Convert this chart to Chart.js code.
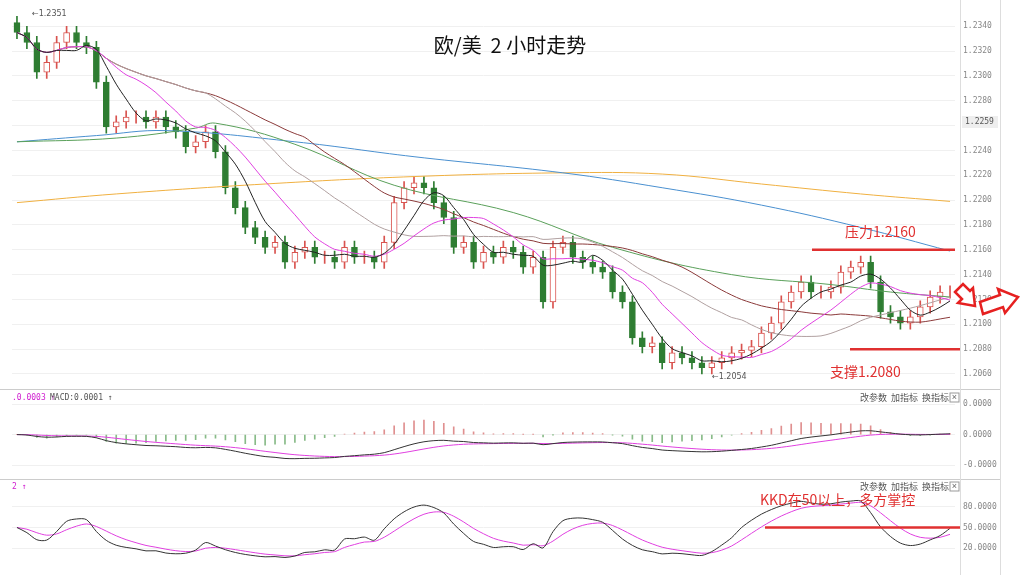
<!DOCTYPE html><html><head><meta charset="utf-8">
<script src="https://cdn.jsdelivr.net/npm/chart.js@4"></script>
<style>body{margin:0;background:#fff;width:1024px;height:575px;overflow:hidden;font-family:"Noto Sans CJK SC",sans-serif}
.c{position:absolute;left:0}
#sep{position:absolute;left:0;width:1000px;height:1px;background:#ccc}
</style></head><body>
<div class="c" style="top:0;width:1000px;height:388px"><canvas id="m"></canvas></div>
<div id="sep" style="top:389px"></div>
<div class="c" style="top:390px;width:1000px;height:88px"><canvas id="d"></canvas></div>
<div id="sep" style="top:479px"></div>
<div class="c" style="top:480px;width:1000px;height:95px"><canvas id="k"></canvas></div>
<div style="position:absolute;left:960px;top:0;width:1px;height:575px;background:#ddd"></div>
<div style="position:absolute;left:1000px;top:0;width:1px;height:575px;background:#ddd"></div>
<svg style="position:absolute;left:0;top:0" width="1024" height="575">
<path d="M955,292 L963,284 L970,291 L973,288 L975,306 L958,303 L962,299 Z" fill="#fff" stroke="#e62020" stroke-width="2.5"/>
<path d="M980,302 L1000,295 L998,289 L1018,297 L1005,313 L1003,307 L983,314 Z" fill="#fff" stroke="#e62020" stroke-width="2.5"/>
</svg>
<script>
const closes=[1.2335,1.2327,1.2303,1.2311,1.2327,1.2335,1.2327,1.2323,1.2295,1.2259,1.2263,1.2267,1.2267,1.2263,1.2267,1.2259,1.2255,1.2243,1.2247,1.2255,1.2239,1.2210,1.2194,1.2178,1.2170,1.2162,1.2166,1.2150,1.2158,1.2162,1.2154,1.2154,1.2150,1.2162,1.2154,1.2154,1.2150,1.2166,1.2198,1.2210,1.2214,1.2210,1.2198,1.2186,1.2162,1.2166,1.2150,1.2158,1.2154,1.2162,1.2158,1.2146,1.2154,1.2118,1.2162,1.2166,1.2154,1.2150,1.2146,1.2142,1.2126,1.2118,1.2089,1.2082,1.2085,1.2069,1.2077,1.2073,1.2069,1.2065,1.2069,1.2073,1.2077,1.2079,1.2082,1.2093,1.2101,1.2118,1.2126,1.2134,1.2126,1.2126,1.2130,1.2142,1.2146,1.2150,1.2134,1.2110,1.2106,1.2101,1.2106,1.2114,1.2122,1.2126,1.2126];
// long moving averages: [candle index, value]
const ma200pts=[[0,1.2198],[10,1.2205],[25,1.2213],[40,1.2219],[55,1.2222],[65,1.2221],[75,1.2213],[85,1.2205],[94,1.2199]];
const ma120pts=[[0,1.2247],[8,1.2252],[15,1.2256],[28,1.2247],[40,1.2235],[55,1.2222],[65,1.2210],[75,1.2196],[85,1.2178],[94,1.2159]];
const ma60pts=[[0,1.2247],[10,1.2250],[18,1.2258],[20,1.2262],[28,1.2245],[38,1.2212],[50,1.2190],[60,1.2162],[72,1.2140],[82,1.2132],[88,1.2126],[94,1.2122]];
const labels=closes.map((_,i)=>i);
const opens=closes.map((c,i)=>i?closes[i-1]:1.2343);
const wick=0.0005;
function sma(n){return closes.map((_,i)=>{if(i<n-1){let s=0;for(let j=0;j<=i;j++)s+=closes[j];return s/(i+1);}let s=0;for(let j=i-n+1;j<=i;j++)s+=closes[j];return s/n;});}
function pts(p){const a=new Array(closes.length).fill(null);p.forEach(([i,v])=>a[i]=v);return a;}
function ema(arr,n){let k=2/(n+1),o=[],e=arr[0];arr.forEach(v=>{e=v*k+e*(1-k);o.push(e);});return o;}
const e12=ema(closes,12),e26=ema(closes,26);
const dif=closes.map((_,i)=>e12[i]-e26[i]);const dea=ema(dif,9);const hist=dif.map((v,i)=>2*(v-dea[i]));
let K=[],D=[],kp=50,dp=50;closes.forEach((c,i)=>{const s=closes.slice(Math.max(0,i-8),i+1);const hi=Math.max(...s)+wick,lo=Math.min(...s)-wick;const rsv=(c-lo)/(hi-lo)*100;kp=kp*2/3+rsv/3;dp=dp*2/3+kp/3;K.push(kp);D.push(dp);});
const up=closes.map((c,i)=>c>=opens[i]);
const common={responsive:true,maintainAspectRatio:false,animation:false,plugins:{legend:{display:false},tooltip:{enabled:false}},layout:{padding:{left:12,right:0,top:0,bottom:0}}};
const xs={type:'category',display:false,offset:true};
const tickFont={size:8,family:'DejaVu Sans Mono'};
const txt=(ctx,t,x,y,c,f,al)=>{ctx.save();ctx.fillStyle=c;ctx.font=f;ctx.textAlign=al||'left';ctx.textBaseline='middle';ctx.fillText(t,x,y);ctx.restore();};
const mainAnn={id:'ma',afterDraw(ch){const c=ch.ctx,y=ch.scales.y,x=ch.scales.x;
 txt(c,'欧/美  2 小时走势',510,45,'#111','20px "Noto Sans CJK SC"','center');
 c.save();c.strokeStyle='#e03030';c.lineWidth=2.5;c.beginPath();c.moveTo(812,y.getPixelForValue(1.2160));c.lineTo(955,y.getPixelForValue(1.2160));
 c.moveTo(850,y.getPixelForValue(1.2080));c.lineTo(960,y.getPixelForValue(1.2080));c.stroke();c.restore();
 txt(c,'压力1.2160',845,232,'#e03030','14px "Noto Sans CJK SC"');
 txt(c,'支撑1.2080',830,372,'#e03030','14px "Noto Sans CJK SC"');
 txt(c,'←1.2054',712,377,'#555','8px "DejaVu Sans"');
 txt(c,'←1.2351',32,14,'#555','8px "DejaVu Sans"');
 c.save();c.fillStyle='#eee';c.fillRect(962,116,36,12);c.restore();
 txt(c,'1.2259',965,122,'#555','8px "DejaVu Sans Mono"');
}};
new Chart(document.getElementById('m'),{data:{labels,datasets:[
 {type:'bar',data:closes.map((c,i)=>[Math.min(c,opens[i])-wick,Math.max(c,opens[i])+wick]),backgroundColor:up.map(u=>u?'#d9534f':'#2e7d32'),barThickness:1,grouped:false,order:3},
 {type:'bar',data:closes.map((c,i)=>[opens[i],c]),backgroundColor:up.map(u=>u?'#fff':'#2e7d32'),borderColor:up.map(u=>u?'#d9534f':'#2e7d32'),borderWidth:1,borderSkipped:false,barThickness:6,grouped:false,order:2},
 {type:'line',data:sma(5),borderColor:'#222',borderWidth:1,pointRadius:0,tension:0.3,order:1},
 {type:'line',data:sma(10),borderColor:'#e040e0',borderWidth:1,pointRadius:0,tension:0.3,order:1},
 {type:'line',data:sma(20),borderColor:'#b0a0a0',borderWidth:1,pointRadius:0,tension:0.3,order:1},
 {type:'line',data:sma(30),borderColor:'#8b3a3a',borderWidth:1,pointRadius:0,tension:0.3,order:1},
 {type:'line',data:pts(ma60pts),borderColor:'#5aa05a',borderWidth:1,pointRadius:0,spanGaps:true,tension:0.4,order:1},
 {type:'line',data:pts(ma120pts),borderColor:'#4a90d0',borderWidth:1,pointRadius:0,spanGaps:true,tension:0.4,order:1},
 {type:'line',data:pts(ma200pts),borderColor:'#f0b040',borderWidth:1,pointRadius:0,spanGaps:true,tension:0.4,order:1}]},
 options:{...common,scales:{x:{...xs,grid:{display:false}},y:{position:'right',min:1.2059,max:1.23509,afterFit(s){s.width=45},
 afterBuildTicks(s){const t=[];for(let v=1.2060;v<=1.23401;v+=0.002)t.push({value:v});s.ticks=t;},
 ticks:{font:tickFont,color:'#888',callback:v=>v.toFixed(4),padding:8},grid:{color:'#f0f0f0',drawTicks:false},border:{display:false}}}},plugins:[mainAnn]});
const macdAnn={id:'da',afterDraw(ch){const c=ch.ctx;txt(c,'.0.0003 ↑',12,8,'#d020d0','8px "DejaVu Sans Mono"');txt(c,'MACD:0.0001 ↑',50,8,'#555','8px "DejaVu Sans Mono"');
 txt(c,'改参数  加指标  换指标',860,8,'#555','9px "Noto Sans CJK SC"');c.strokeStyle='#999';c.strokeRect(950,3,9,9);txt(c,'×',954.5,7.5,'#666','9px sans-serif','center');}};
new Chart(document.getElementById('d'),{data:{labels,datasets:[
 {type:'bar',data:hist,backgroundColor:hist.map(v=>v>=0?'#e09090':'#88bb88'),barThickness:1,order:2},
 {type:'line',data:dif,borderColor:'#333',borderWidth:1,pointRadius:0,tension:0.3,order:1},
 {type:'line',data:dea,borderColor:'#e040e0',borderWidth:1,pointRadius:0,tension:0.3,order:1}]},
 options:{...common,layout:{padding:{left:12,top:14,bottom:4}},scales:{x:{...xs,grid:{display:false}},y:{position:'right',afterFit(s){s.width=45},
 ticks:{font:tickFont,color:'#888',maxTicksLimit:4,callback:v=>(v<0?'-':'')+'0.0000',padding:8},grid:{color:'#f0f0f0',drawTicks:false},border:{display:false}}}},plugins:[macdAnn]});
const kAnn={id:'ka',afterDraw(ch){const c=ch.ctx,y=ch.scales.y;txt(c,'2 ↑',12,7,'#d020d0','8px "DejaVu Sans Mono"');
 txt(c,'改参数  加指标  换指标',860,7,'#555','9px "Noto Sans CJK SC"');c.strokeStyle='#999';c.strokeRect(950,2,9,9);txt(c,'×',954.5,6.5,'#666','9px sans-serif','center');
 c.save();c.strokeStyle='#e03030';c.lineWidth=2.5;c.beginPath();c.moveTo(765,y.getPixelForValue(50));c.lineTo(960,y.getPixelForValue(50));c.stroke();c.restore();
 txt(c,'KKD在50以上，多方掌控',760,20,'#e03030','14px "Noto Sans CJK SC"');}};
new Chart(document.getElementById('k'),{data:{labels,datasets:[
 {type:'line',data:K,borderColor:'#333',borderWidth:1,pointRadius:0,tension:0.3},
 {type:'line',data:D,borderColor:'#e040e0',borderWidth:1,pointRadius:0,tension:0.3}]},
 options:{...common,layout:{padding:{left:12,top:4,bottom:2}},scales:{x:{...xs,grid:{display:false}},y:{position:'right',min:0,max:100,afterFit(s){s.width=45},
 afterBuildTicks(s){s.ticks=[{value:20},{value:50},{value:80}]},ticks:{font:tickFont,color:'#888',callback:v=>v.toFixed(4),padding:8},grid:{color:'#f0f0f0',drawTicks:false},border:{display:false}}}},plugins:[kAnn]});
</script></body></html>
